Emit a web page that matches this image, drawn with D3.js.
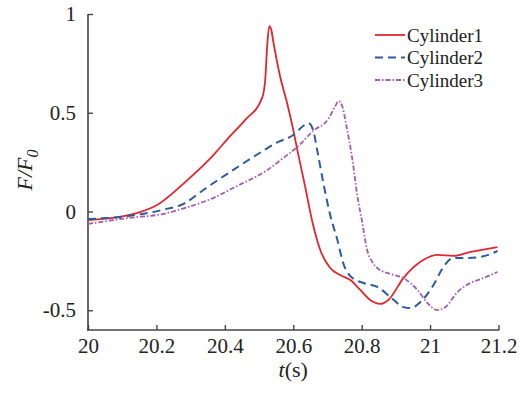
<!DOCTYPE html>
<html>
<head>
<meta charset="utf-8">
<script src="https://cdn.jsdelivr.net/npm/d3@7/dist/d3.min.js"></script>
<style>
html,body{margin:0;padding:0;background:#fff;}
svg{display:block;}
</style>
</head>
<body>
<svg id="chart" width="519" height="394"></svg>
<script>
const seriesNames = ["Cylinder1", "Cylinder2", "Cylinder3"];
const xTicks = [20, 20.2, 20.4, 20.6, 20.8, 21, 21.2];
const xTickLabels = ["20", "20.2", "20.4", "20.6", "20.8", "21", "21.2"];
const yTicks = [-0.5, 0, 0.5, 1];
const yTickLabels = ["-0.5", "0", "0.5", "1"];

const t1 = [20.0, 20.088, 20.152, 20.202, 20.284, 20.372, 20.410, 20.459, 20.509, 20.518, 20.524, 20.530, 20.536, 20.541, 20.562, 20.582, 20.600, 20.612, 20.635, 20.656, 20.679, 20.708, 20.737, 20.767, 20.796, 20.825, 20.855, 20.878, 20.922, 20.980, 21.021, 21.068, 21.118, 21.197];
const f1 = [-0.043, -0.028, -0.003, 0.033, 0.149, 0.296, 0.372, 0.463, 0.575, 0.666, 0.843, 0.939, 0.919, 0.868, 0.681, 0.549, 0.413, 0.311, 0.124, -0.053, -0.195, -0.286, -0.322, -0.347, -0.397, -0.448, -0.468, -0.448, -0.337, -0.246, -0.220, -0.225, -0.205, -0.180];

const t2 = [20.0, 20.117, 20.217, 20.284, 20.337, 20.424, 20.483, 20.556, 20.600, 20.629, 20.644, 20.658, 20.670, 20.688, 20.708, 20.729, 20.746, 20.773, 20.805, 20.846, 20.884, 20.922, 20.942, 20.972, 21.010, 21.039, 21.068, 21.109, 21.147, 21.197];
const f2 = [-0.038, -0.023, 0.008, 0.043, 0.109, 0.210, 0.276, 0.352, 0.387, 0.433, 0.448, 0.413, 0.311, 0.144, -0.018, -0.144, -0.261, -0.337, -0.362, -0.382, -0.433, -0.484, -0.489, -0.458, -0.372, -0.281, -0.235, -0.235, -0.230, -0.200];

const t3 = [20.0, 20.117, 20.217, 20.284, 20.372, 20.424, 20.524, 20.571, 20.612, 20.658, 20.702, 20.723, 20.732, 20.743, 20.755, 20.773, 20.787, 20.802, 20.816, 20.831, 20.849, 20.884, 20.922, 20.963, 20.992, 21.021, 21.045, 21.080, 21.118, 21.156, 21.197];
const f3 = [-0.063, -0.033, -0.013, 0.018, 0.073, 0.119, 0.210, 0.271, 0.327, 0.408, 0.468, 0.534, 0.559, 0.534, 0.438, 0.261, 0.084, -0.058, -0.195, -0.256, -0.291, -0.316, -0.337, -0.397, -0.463, -0.499, -0.484, -0.408, -0.362, -0.337, -0.306];

const colors = ["#e1262f", "#2d5b98", "#a35cb0"];
const dashes = [null, "8,5", "5,2,1.5,2"];
const widths = [1.8, 2.0, 1.8];

const svg = d3.select("#chart");
const x = d3.scaleLinear().domain([20, 21.2]).range([88, 498.5]);
const y = d3.scaleLinear().domain([-0.6, 1]).range([330, 14]);

const font = "'Liberation Serif', 'Times New Roman', serif";
const axisColor = "#444";

// X axis
const xAxis = d3.axisBottom(x).tickValues(xTicks)
  .tickFormat((d, i) => xTickLabels[i]).tickSizeInner(-5).tickSizeOuter(0).tickPadding(8);
const gx = svg.append("g").attr("transform", "translate(0,330)").call(xAxis)
  .attr("font-family", font).attr("font-size", 21);
gx.select(".domain").attr("stroke", axisColor).attr("stroke-width", 1.6).attr("d", `M${x(20)-0.8},0H${x(21.2)+0.8}`);
gx.selectAll(".tick line").attr("stroke", axisColor).attr("stroke-width", 1.4);
gx.selectAll(".tick text").attr("fill", "#222").style("font-family", font).style("font-size", "21px");

// Y axis
const yAxis = d3.axisLeft(y).tickValues(yTicks)
  .tickFormat((d, i) => yTickLabels[i]).tickSizeInner(-5).tickSizeOuter(0).tickPadding(12);
const gy = svg.append("g").attr("transform", "translate(88,0)").call(yAxis)
  .attr("font-family", font).attr("font-size", 21);
gy.select(".domain").attr("stroke", axisColor).attr("stroke-width", 1.6).attr("d", `M0,${y(1)}V${y(-0.6)+0.8}`);
gy.selectAll(".tick line").attr("stroke", axisColor).attr("stroke-width", 1.4);
gy.selectAll(".tick text").attr("fill", "#222").style("font-family", font).style("font-size", "21px");

// Axis titles
const xt = svg.append("text").attr("x", x(20.6)).attr("y", 377).attr("text-anchor", "middle")
  .style("font-family", font).style("font-size", "22px").attr("fill", "#222");
xt.append("tspan").style("font-style", "italic").text("t");
xt.append("tspan").text("(s)");

const yt = svg.append("text").attr("transform", "translate(32,170) rotate(-90)").attr("text-anchor", "middle")
  .style("font-family", font).style("font-size", "22px").style("font-style", "italic").attr("fill", "#222");
yt.append("tspan").text("F/F");
yt.append("tspan").attr("dy", 6).style("font-size", "16px").text("0");

// Lines
const data = [[t1, f1], [t2, f2], [t3, f3]];
const line = d3.line().x(d => x(d[0])).y(d => y(d[1])).curve(d3.curveMonotoneX);
data.forEach((s, i) => {
  const pts = s[0].map((t, j) => [t, s[1][j]]);
  svg.append("path").datum(pts).attr("d", line).attr("fill", "none")
    .attr("stroke", colors[i]).attr("stroke-width", widths[i])
    .attr("stroke-dasharray", dashes[i]).attr("stroke-linejoin", "round");
});

// Legend
const legY = [35, 57.5, 80];
seriesNames.forEach((name, i) => {
  svg.append("line").attr("x1", 375).attr("x2", 405).attr("y1", legY[i]).attr("y2", legY[i])
    .attr("stroke", colors[i]).attr("stroke-width", widths[i]).attr("stroke-dasharray", dashes[i]);
  svg.append("text").attr("x", 407).attr("y", legY[i]).attr("dy", "0.35em")
    .style("font-family", font).style("font-size", "19px").attr("fill", "#222").text(name);
});
</script>
</body>
</html>
